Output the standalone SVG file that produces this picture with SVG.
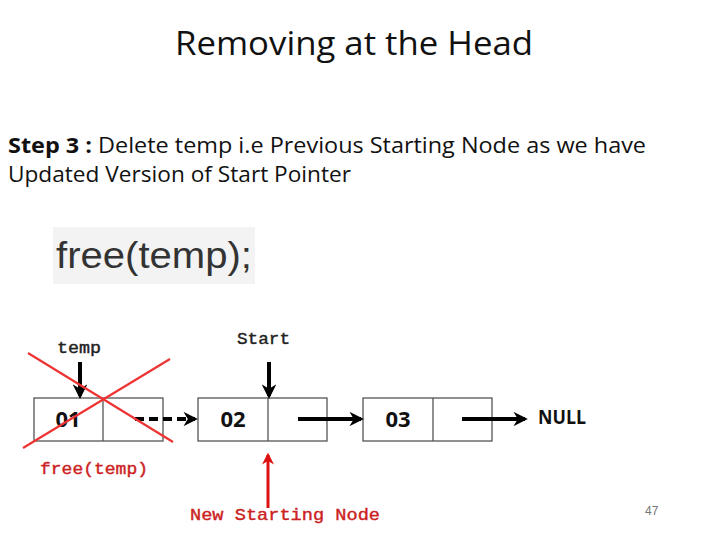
<svg xmlns="http://www.w3.org/2000/svg" width="720" height="540" viewBox="0 0 720 540">
<style>
.box{fill:none;stroke:#555;stroke-width:1.3}
.ptr{stroke:#000;stroke-width:4;fill:none}
.mono{font-family:"Liberation Mono","DejaVu Sans Mono",monospace}
.val{font-family:"Open Sans","DejaVu Sans",sans-serif;font-weight:bold;font-size:22px;fill:#111}
</style>
<defs>
<marker id="ah" viewBox="0 0 10 10" refX="8" refY="5" markerWidth="3.6" markerHeight="3.6" orient="auto" markerUnits="strokeWidth"><path d="M0,0 L10,5 L0,10 L3,5 Z" fill="#000"/></marker>
<marker id="ahr" viewBox="0 0 10 10" refX="8" refY="5" markerWidth="4" markerHeight="4" orient="auto" markerUnits="strokeWidth"><path d="M0,0 L10,5 L0,10 L3,5 Z" fill="#d11"/></marker>
</defs>
<rect width="720" height="540" fill="#fff"/>
<text x="354" y="55" text-anchor="middle" font-family="'Open Sans','Liberation Sans',sans-serif" font-size="32" fill="#111" textLength="358" lengthAdjust="spacingAndGlyphs">Removing at the Head</text>
<text x="8" y="153" font-family="'Open Sans','Liberation Sans',sans-serif" font-size="21" fill="#111" textLength="638" lengthAdjust="spacingAndGlyphs"><tspan font-weight="bold">Step 3 :</tspan> Delete temp i.e Previous Starting Node as we have</text>
<text x="8" y="182" font-family="'Open Sans','Liberation Sans',sans-serif" font-size="21" fill="#111" textLength="343" lengthAdjust="spacingAndGlyphs">Updated Version of Start Pointer</text>
<g id="code">
<rect x="53" y="227" width="202" height="57" fill="#f3f3f3"/>
<text x="56" y="268" font-family="'Liberation Sans',Arial,sans-serif" font-size="36" fill="#333" textLength="196" lengthAdjust="spacingAndGlyphs">free(temp);</text>
</g>
<g id="node1">
<rect class="box" x="34" y="398" width="129" height="43"/>
<line class="box" x1="103" y1="398" x2="103" y2="441"/>
<text class="val" x="68" y="427" text-anchor="middle">01</text>
</g>
<g id="node2">
<rect class="box" x="198" y="398" width="129" height="43"/>
<line class="box" x1="268" y1="398" x2="268" y2="441"/>
<text class="val" x="233" y="427" text-anchor="middle">02</text>
</g>
<g id="node3">
<rect class="box" x="363" y="398" width="129" height="43"/>
<line class="box" x1="433" y1="398" x2="433" y2="441"/>
<text class="val" x="398" y="427" text-anchor="middle">03</text>
</g>
<g id="null"><text x="538" y="424" font-family="'Open Sans','Liberation Sans',sans-serif" font-weight="bold" font-size="19" fill="#111" textLength="48" lengthAdjust="spacingAndGlyphs">NULL</text></g>
<g id="temp"><text class="mono" x="57" y="353" font-size="16" fill="#222" stroke="#222" stroke-width="0.4" textLength="44" lengthAdjust="spacingAndGlyphs">temp</text></g>
<g id="start"><text class="mono" x="237" y="344" font-size="16" fill="#222" stroke="#222" stroke-width="0.4" textLength="53" lengthAdjust="spacingAndGlyphs">Start</text></g>
<g id="freelabel"><text class="mono" x="40" y="474" font-size="17" fill="#c22" stroke="#c22" stroke-width="0.4" textLength="108" lengthAdjust="spacingAndGlyphs">free(temp)</text></g>
<g id="newstart"><text class="mono" x="190" y="520" font-size="17" fill="#c22" stroke="#c22" stroke-width="0.4" textLength="190" lengthAdjust="spacingAndGlyphs">New Starting Node</text></g>
<g id="pagenum"><text x="645" y="515" font-family="'Liberation Sans',sans-serif" font-size="12" fill="#777">47</text></g>
<g id="connectors">
<line class="ptr" x1="80" y1="362" x2="80" y2="396" stroke-width="3.5" marker-end="url(#ah)"/>
<line class="ptr" x1="269" y1="362" x2="269" y2="396" stroke-width="3.5" marker-end="url(#ah)"/>
<line class="ptr" x1="135" y1="419" x2="195" y2="419" stroke-dasharray="9,5" marker-end="url(#ah)"/>
<line class="ptr" x1="298" y1="419" x2="361" y2="419" marker-end="url(#ah)"/>
<line class="ptr" x1="462" y1="419" x2="525" y2="419" marker-end="url(#ah)"/>
<line x1="268" y1="508" x2="268" y2="455" stroke="#d11" stroke-width="3" marker-end="url(#ahr)"/>
<line x1="28" y1="353" x2="173" y2="442" stroke="#e33" stroke-width="2.2"/>
<line x1="170" y1="359" x2="23" y2="448" stroke="#e33" stroke-width="2.2"/>
</g>
</svg>
